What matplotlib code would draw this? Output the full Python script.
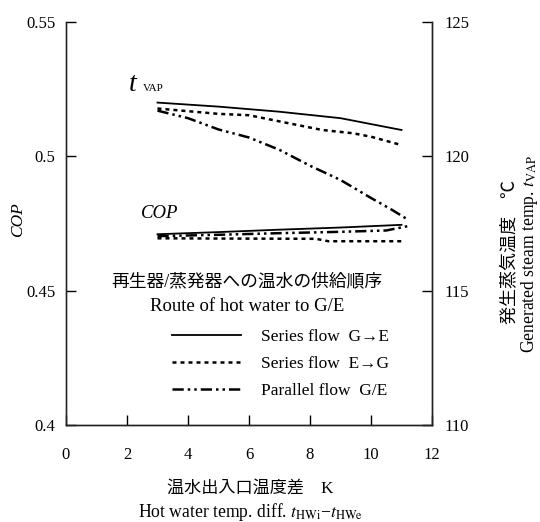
import matplotlib
matplotlib.use("Agg")
import matplotlib.pyplot as plt
from matplotlib.lines import Line2D

plt.rcParams['font.family'] = ['Liberation Serif', 'Noto Sans CJK JP', 'DejaVu Sans']
plt.rcParams['mathtext.fontset'] = 'stix'

# generated steam temperature (right axis, degC)
x_tvap_ge = [3, 5, 7, 9, 11]
tvap_ge = [122.0, 121.85, 121.66, 121.42, 120.98]
x_tvap_eg = [3, 5, 6, 7, 8.4, 9.4, 10, 10.9]
tvap_eg = [121.78, 121.58, 121.53, 121.3, 120.98, 120.86, 120.73, 120.45]
x_tvap_par = [3, 4, 5, 6, 7, 8, 9, 10, 10.7, 11.2]
tvap_par = [121.7, 121.42, 121.0, 120.7, 120.24, 119.65, 119.12, 118.45, 118.0, 117.65]

# COP (left axis)
x_cop_ge = [3, 5, 7, 9, 11]
cop_ge = [0.4710, 0.4718, 0.4727, 0.4735, 0.4745]
x_cop_eg = [3, 5, 8.2, 8.6, 11]
cop_eg = [0.4695, 0.4694, 0.4693, 0.4684, 0.4684]
x_cop_par = [3, 5, 7, 9, 10.5, 11.2]
cop_par = [0.4703, 0.4708, 0.4714, 0.4719, 0.4724, 0.4740]

x_ticks = [0, 2, 4, 6, 8, 10, 12]
cop_ticks = [0.4, 0.45, 0.5, 0.55]
cop_tick_labels = ['0.4', '0.45', '0.5', '0.55']
tvap_ticks = [110, 115, 120, 125]

labels = ['Series flow  G→E', 'Series flow  E→G', 'Parallel flow  G/E']
styles = [dict(linestyle='-', linewidth=1.3),
          dict(linestyle=(0, (1.6, 1.6)), linewidth=1.8),
          dict(linestyle=(0, (4.5, 1.6, 1.0, 1.6, 1.0, 1.6)), linewidth=1.8)]

fig = plt.figure(figsize=(5.4, 5.22), dpi=100)
ax = fig.add_axes([0.1222, 0.1858, 0.6778, 0.7721])
ax2 = ax.twinx()

ax.set_xlim(0, 12)
ax.set_ylim(0.4, 0.55)
ax2.set_ylim(110, 125)

for xs, ys, st in zip([x_cop_ge, x_cop_eg, x_cop_par], [cop_ge, cop_eg, cop_par], styles):
    ax.plot(xs, ys, color='black', **st)
for xs, ys, st in zip([x_tvap_ge, x_tvap_eg, x_tvap_par], [tvap_ge, tvap_eg, tvap_par], styles):
    ax2.plot(xs, ys, color='black', **st)

for a in (ax, ax2):
    a.spines['top'].set_visible(False)
    for s in a.spines.values():
        s.set_linewidth(1.0)
        s.set_color('#222222')
ax.spines['left'].set_color('#555555')

ax.set_xticks(x_ticks)
ax.set_xticklabels([str(v) for v in x_ticks], fontsize=12)
ax.tick_params(axis='x', direction='in', length=7, pad=16, width=1.0)
ax.set_yticks(cop_ticks)
ax.set_yticklabels(cop_tick_labels, fontsize=12)
ax.tick_params(axis='y', direction='in', length=7, pad=7.5, width=1.0)
ax2.set_yticks(tvap_ticks)
ax2.set_yticklabels([str(v) for v in tvap_ticks], fontsize=12)
ax2.tick_params(axis='y', direction='in', length=7, pad=9, width=1.0)

# curve annotations
ax.text(0.183, 0.844, 't', transform=ax.transAxes, fontsize=20, style='italic',
        ha='center', va='center')
ax.text(0.239, 0.834, 'VAP', transform=ax.transAxes, fontsize=8,
        ha='center', va='center')
ax.text(0.257, 0.526, 'COP', transform=ax.transAxes, fontsize=13.5, style='italic',
        ha='center', va='center')

# legend block
ax.text(0.4945, 0.355, '再生器/蒸発器への温水の供給順序', transform=ax.transAxes,
        fontsize=12.8, ha='center', va='center')
ax.text(0.4945, 0.293, 'Route of hot water to G/E', transform=ax.transAxes,
        fontsize=13.5, ha='center', va='center')
handles = [Line2D([], [], color='black', **st) for st in styles]
ax.legend(handles, labels, loc='center left', bbox_to_anchor=(0.2896, 0.1514),
          frameon=False, fontsize=12.5, handlelength=4.0, handletextpad=1.15,
          labelspacing=0.6, borderpad=0, borderaxespad=0)

# axis titles
fig.text(0.033, 0.579, 'COP', rotation=90, fontsize=12.5, style='italic',
         ha='center', va='center')
fig.text(0.463, 1 - 490 / 522, '温水出入口温度差　K', fontsize=12.3,
         ha='center', va='center')
fig.text(0.463, 1 - 512 / 522, r'Hot water temp. diff. $t_{\mathrm{HWi}}$−$t_{\mathrm{HWe}}$',
         fontsize=12.7, ha='center', va='center')
fig.text(510 / 540, 1 - 252 / 522, '発生蒸気温度　℃', rotation=90, fontsize=13,
         ha='center', va='center')
fig.text(530 / 540, 1 - 254 / 522, r'Generated steam temp. $t_{\mathrm{VAP}}$', rotation=90,
         fontsize=12.7, ha='center', va='center')

fig.savefig('out.png', dpi=100)
